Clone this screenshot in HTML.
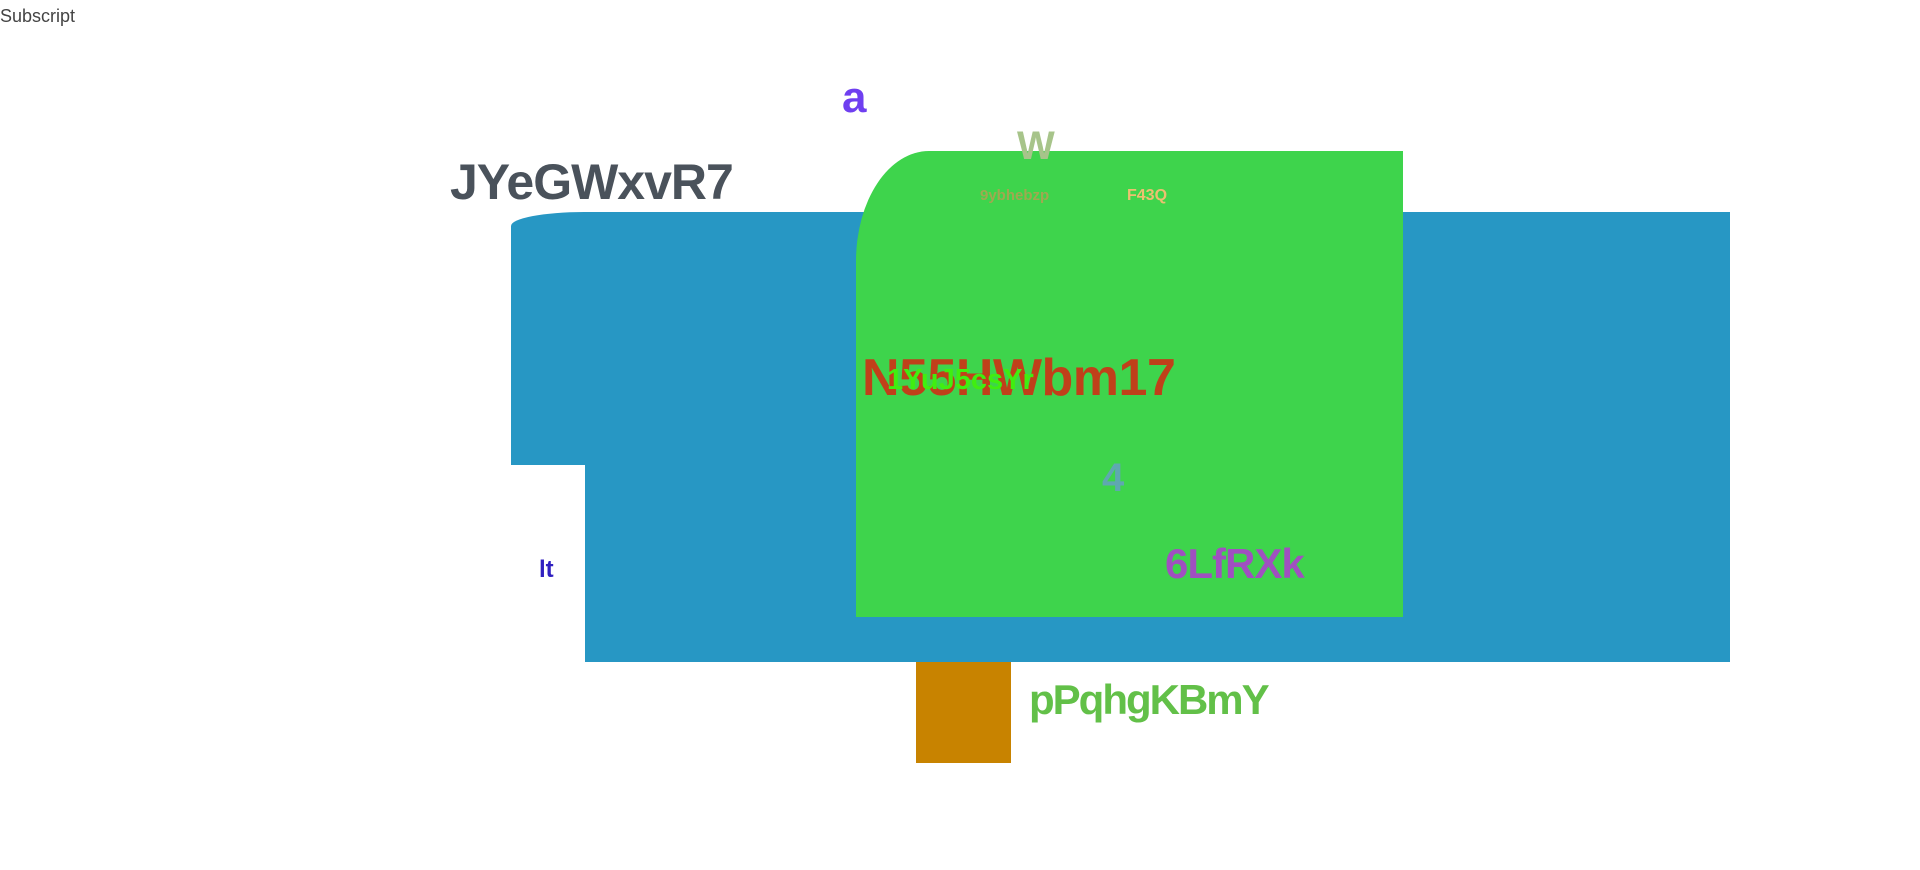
<!DOCTYPE html>
<html><head><meta charset="utf-8"><style>
html,body{margin:0;padding:0;width:1920px;height:870px;overflow:hidden;background:#fff;font-family:"Liberation Sans","DejaVu Sans",sans-serif;}
.a{position:absolute;}
.t{position:absolute;font-weight:bold;white-space:nowrap;line-height:1;}
</style></head><body>
<div class="a" style="left:0;top:6px;font-size:18px;color:#444;">Subscript</div>
<div class="a" style="left:511px;top:212px;width:1219px;height:253px;background:#2797c4;border-top-left-radius:73px 14px;"></div>
<div class="a" style="left:585px;top:464px;width:1145px;height:198px;background:#2797c4;"></div>
<div class="a" style="left:856px;top:151px;width:547px;height:466px;background:#3ed44c;border-top-left-radius:73px 110px;"></div>
<div class="a" style="left:916px;top:662px;width:95px;height:101px;background:#c88300;"></div>
<div class="t" style="left:842px;top:76px;font-size:44px;color:#6f3ff0;">a</div>
<div class="t" style="left:1017px;top:126px;font-size:40px;color:#a7c48a;">W</div>
<div class="t" style="left:450px;top:157px;font-size:50px;color:#4a525b;letter-spacing:-1px;">JYeGWxvR7</div>
<div class="t" style="left:980px;top:188px;font-size:15px;color:#a0a850;">9ybhebzp</div>
<div class="t" style="left:1127px;top:188px;font-size:16px;color:#ecc070;">F43Q</div>
<div class="t" style="left:862px;top:352px;font-size:52px;color:#c0401a;letter-spacing:-0.5px;">N55HWbm17</div>
<div class="t" style="left:887px;top:366px;font-size:29px;color:#40ee10;">1YuJ5csYr</div>
<div class="t" style="left:1102px;top:458px;font-size:40px;color:#5fa8b0;">4</div>
<div class="t" style="left:1165px;top:543px;font-size:42px;color:#a050c0;letter-spacing:-1px;">6LfRXk</div>
<div class="t" style="left:539px;top:558px;font-size:24px;color:#3020c0;">lt</div>
<div class="t" style="left:1029px;top:679px;font-size:42px;color:#62c048;letter-spacing:-2px;">pPqhgKBmY</div>
</body></html>
